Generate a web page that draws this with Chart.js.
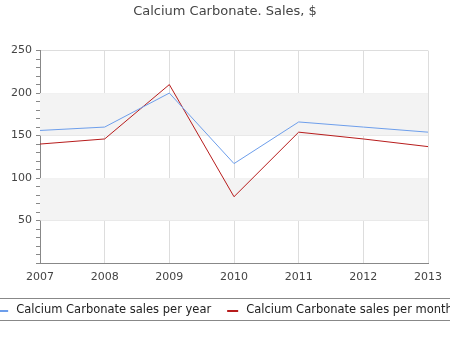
<!DOCTYPE html>
<html>
<head>
<meta charset="utf-8">
<script src="https://cdn.jsdelivr.net/npm/chart.js@4"></script>
<style>
  html, body { margin: 0; padding: 0; background: #fff; }
  #wrap { width: 450px; height: 350px; }
</style>
</head>
<body>
<div id="wrap"><canvas id="chart" width="450" height="350"></canvas></div>
<script>
// Data
const years = ["2007", "2008", "2009", "2010", "2011", "2012", "2013"];
const salesPerYear = [156, 160, 200, 117, 166, 160, 154];
const salesPerMonth = [140, 146, 210, 78, 154, 146, 137];
const seriesNames = ["Calcium Carbonate sales per year", "Calcium Carbonate sales per month"];
const bandRanges = [[50, 100], [150, 200]];

const FONT = "'DejaVu Sans', sans-serif";

// shaded bands behind the lines
const bandsPlugin = {
  id: "bands",
  beforeDatasetsDraw(chart) {
    const { ctx, chartArea, scales } = chart;
    ctx.save();
    ctx.fillStyle = "#f3f3f3";
    bandRanges.forEach(([lo, hi]) => {
      const y1 = scales.y.getPixelForValue(hi);
      const y2 = scales.y.getPixelForValue(lo);
      ctx.fillRect(chartArea.left, y1, chartArea.right - chartArea.left, y2 - y1);
    });
    ctx.restore();
  },
};

// legend between two rules, centered (overflows like the original)
const legendPlugin = {
  id: "lineLegend",
  afterDraw(chart) {
    const { ctx, width } = chart;
    const y = 310;
    ctx.save();
    ctx.strokeStyle = "#888";
    ctx.lineWidth = 1;
    ctx.beginPath();
    ctx.moveTo(0, 298.5); ctx.lineTo(width, 298.5);
    ctx.moveTo(0, 320.5); ctx.lineTo(width, 320.5);
    ctx.stroke();

    ctx.font = "11.5px " + FONT;
    ctx.textBaseline = "middle";
    const items = chart.data.datasets.map((ds) => ({
      text: ds.label,
      color: ds.borderColor,
      w: 11 + 8 + ctx.measureText(ds.label).width,
    }));
    const gap = 16;
    const total = items.reduce((s, it) => s + it.w, 0) + gap * (items.length - 1);
    let x = (width - total) / 2;
    items.forEach((it) => {
      ctx.fillStyle = it.color;
      ctx.fillRect(x, y, 11, 2);
      ctx.fillStyle = "#222";
      ctx.fillText(it.text, x + 19, y);
      x += it.w + gap;
    });
    ctx.restore();
  },
};

new Chart(document.getElementById("chart"), {
  type: "line",
  data: {
    labels: years,
    datasets: [
      {
        label: seriesNames[0],
        data: salesPerYear,
        borderColor: "#6d9eeb",
        borderWidth: 1,
        pointRadius: 0,
        tension: 0,
      },
      {
        label: seriesNames[1],
        data: salesPerMonth,
        borderColor: "#b71c1c",
        borderWidth: 1,
        pointRadius: 0,
        tension: 0,
      },
    ],
  },
  options: {
    responsive: false,
    animation: false,
    layout: { padding: { left: 0, right: 0, top: 0, bottom: 67 } },
    plugins: {
      legend: { display: false },
      tooltip: { enabled: false },
      title: {
        display: true,
        text: "Calcium Carbonate. Sales, $",
        color: "#444",
        font: { family: FONT, size: 13, weight: "normal" },
        padding: { top: 4, bottom: 31 },
      },
    },
    scales: {
      x: {
        offset: false,
        grid: { color: "#dddddd", drawTicks: false },
        border: { color: "#888", width: 1 },
        ticks: { color: "#444", font: { family: FONT, size: 11 }, padding: 8, maxRotation: 0 },
        afterFit: (s) => { s.height = 20; },
      },
      y: {
        min: 0,
        max: 250,
        ticks: {
          stepSize: 10,
          color: "#444",
          font: { family: FONT, size: 11 },
          padding: 4,
          autoSkip: false,
          callback: (v) => (v !== 0 && v % 50 === 0 ? v : ""),
        },
        grid: {
          tickLength: 4,
          color: (c) => (c.tick && c.tick.value % 50 === 0 && c.tick.value !== 0 ? "#dddddd" : "rgba(0,0,0,0)"),
          tickColor: "#888",
        },
        border: { color: "#888", width: 1 },
        afterFit: (s) => { s.width = 40; },
      },
      // empty right-hand strip so the plot ends at the same place as the original
      yRight: {
        position: "right",
        display: true,
        min: 0,
        max: 250,
        grid: { drawOnChartArea: false, drawTicks: false },
        border: { display: false },
        ticks: { display: false },
        afterFit: (s) => { s.width = 19; },
      },
    },
  },
  plugins: [bandsPlugin, legendPlugin],
});
</script>
</body>
</html>
